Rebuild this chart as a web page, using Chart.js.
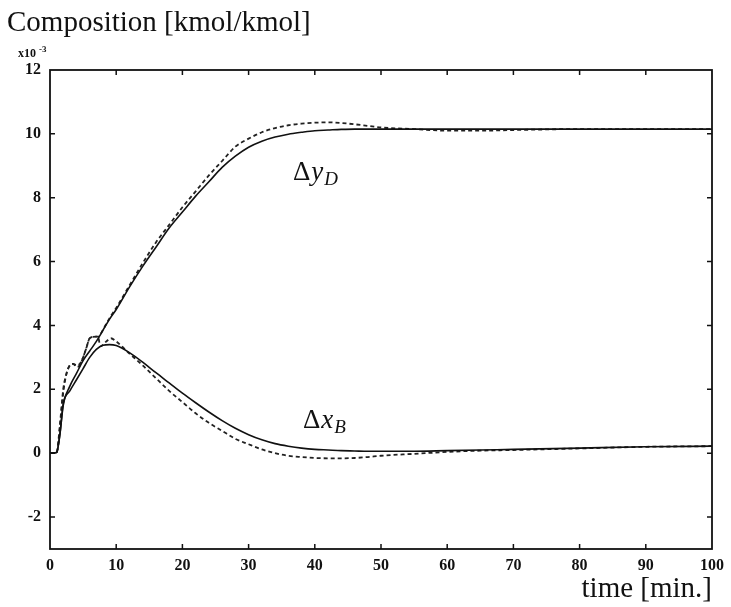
<!DOCTYPE html>
<html lang="en">
<head>
    <meta charset="UTF-8">
    <title>Composition response</title>
    <script src="https://cdn.jsdelivr.net/npm/chart.js"></script>
    <style>
        html, body { margin: 0; padding: 0; background: #fff; }
        #wrap { width: 731px; height: 607px; }
    </style>
</head>
<body>
    <div id="wrap"><canvas id="compChart" width="731" height="607"></canvas></div>

    <script>
        // time axis (min) for the solid curves
        const timeSolid = [0, 1, 1.5, 2, 3, 4, 5, 6, 7, 8, 9, 10, 12, 14, 16, 18, 20, 22, 24, 26, 28,
            30, 32, 34, 36, 38, 40, 42, 44, 46, 48, 50, 55, 60, 65, 70, 80, 90, 100];
        const yDSolid = [0, 0.02, 0.6, 1.5, 2.1, 2.5, 2.9, 3.2, 3.5, 3.85, 4.2, 4.5, 5.2, 5.85, 6.45, 7.05, 7.55, 8.05, 8.5, 8.95, 9.3,
            9.58, 9.77, 9.9, 9.99, 10.05, 10.1, 10.12, 10.14, 10.15, 10.15, 10.15, 10.15, 10.15, 10.15, 10.15, 10.15, 10.15, 10.15];
        const xBSolid = [0, 0.02, 0.6, 1.55, 1.95, 2.3, 2.65, 3.0, 3.25, 3.38, 3.4, 3.37, 3.15, 2.85, 2.52, 2.2, 1.88, 1.58, 1.29, 1.02, 0.78,
            0.58, 0.42, 0.3, 0.22, 0.16, 0.12, 0.1, 0.08, 0.07, 0.06, 0.06, 0.06, 0.08, 0.1, 0.12, 0.16, 0.2, 0.22];

        // time axis (min) for the dashed curves
        const timeDash = [0, 1, 1.5, 2, 2.5, 3, 3.5, 4, 4.5, 5, 5.5, 6, 7, 7.3, 7.6, 8.5, 9.2, 10, 12, 14, 16, 18, 20, 22, 24, 26, 28,
            30, 32, 34, 36, 38, 40, 42, 44, 46, 48, 50, 55, 60, 65, 70, 80, 90, 100];
        const yDDashed = [0, 0.02, 0.8, 1.9, 2.5, 2.75, 2.8, 2.75, 2.8, 3.0, 3.3, 3.6, 3.65, 3.65, 3.72, 4.05, 4.3, 4.55, 5.25, 5.95, 6.6, 7.15, 7.7, 8.2, 8.7, 9.15, 9.6,
            9.85, 10.05, 10.18, 10.27, 10.32, 10.35, 10.36, 10.34, 10.3, 10.25, 10.2, 10.15, 10.1, 10.1, 10.12, 10.15, 10.15, 10.15];
        const xBDashed = [0, 0.02, 0.9, 2.0, 2.5, 2.75, 2.8, 2.7, 2.75, 3.0, 3.3, 3.6, 3.65, 3.62, 3.35, 3.5, 3.6, 3.5, 3.12, 2.75, 2.35, 1.95, 1.6, 1.25, 0.95, 0.7, 0.45,
            0.28, 0.12, 0.0, -0.08, -0.12, -0.15, -0.16, -0.16, -0.15, -0.12, -0.08, -0.02, 0.04, 0.08, 0.1, 0.15, 0.2, 0.22];

        const xTicks = [0, 10, 20, 30, 40, 50, 60, 70, 80, 90, 100];
        const yTicks = [-2, 0, 2, 4, 6, 8, 10, 12];

        const pts = (ts, vs) => ts.map((t, i) => ({ x: t, y: vs[i] }));

        // frame, inward ticks and the text around the plot
        const decor = {
            id: "decor",
            afterDraw(chart) {
                const { ctx, chartArea: a, scales: { x, y } } = chart;
                ctx.save();
                ctx.strokeStyle = "#111";
                ctx.lineWidth = 1.8;
                ctx.strokeRect(a.left, a.top, a.right - a.left, a.bottom - a.top);

                ctx.lineWidth = 1.5;
                const tl = 5;
                xTicks.slice(1, -1).forEach(v => {
                    const px = x.getPixelForValue(v);
                    ctx.beginPath();
                    ctx.moveTo(px, a.bottom); ctx.lineTo(px, a.bottom - tl);
                    ctx.moveTo(px, a.top); ctx.lineTo(px, a.top + tl);
                    ctx.stroke();
                });
                yTicks.slice(0, -1).forEach(v => {
                    const py = y.getPixelForValue(v);
                    ctx.beginPath();
                    ctx.moveTo(a.left, py); ctx.lineTo(a.left + tl, py);
                    ctx.moveTo(a.right, py); ctx.lineTo(a.right - tl, py);
                    ctx.stroke();
                });

                ctx.fillStyle = "#111";
                ctx.textBaseline = "alphabetic";
                ctx.textAlign = "left";
                ctx.font = "29px 'Liberation Serif', serif";
                ctx.fillText("Composition [kmol/kmol]", 7, 31);

                ctx.font = "bold 12px 'Liberation Serif', serif";
                ctx.fillText("x10", 18, 57);
                ctx.font = "bold 9px 'Liberation Serif', serif";
                ctx.fillText("-3", 39, 52);

                ctx.textAlign = "right";
                ctx.font = "29px 'Liberation Serif', serif";
                ctx.fillText("time [min.]", a.right, 597);

                // curve labels
                ctx.textAlign = "left";
                const lab = (t, v, sym, sub) => {
                    let px = x.getPixelForValue(t);
                    const py = y.getPixelForValue(v);
                    ctx.font = "27px 'Liberation Serif', serif";
                    ctx.fillText("\u0394", px, py);
                    px += ctx.measureText("\u0394").width + 1;
                    ctx.font = "italic 27px 'Liberation Serif', serif";
                    ctx.fillText(sym, px, py);
                    px += ctx.measureText(sym).width + 1;
                    ctx.font = "italic 19px 'Liberation Serif', serif";
                    ctx.fillText(sub, px, py + 5);
                };
                lab(36.7, 8.55, "y", "D");
                lab(38.2, 0.8, "x", "B");
                ctx.restore();
            }
        };

        const solid = { borderColor: "#111", borderWidth: 1.6, pointRadius: 0, fill: false, cubicInterpolationMode: "monotone" };
        const dashed = { borderColor: "#222", borderWidth: 1.8, borderDash: [4, 3], pointRadius: 0, fill: false, cubicInterpolationMode: "monotone" };

        new Chart(document.getElementById("compChart"), {
            type: "line",
            data: {
                datasets: [
                    { label: "yD", data: pts(timeSolid, yDSolid), ...solid },
                    { label: "xB", data: pts(timeSolid, xBSolid), ...solid },
                    { label: "yD dashed", data: pts(timeDash, yDDashed), ...dashed },
                    { label: "xB dashed", data: pts(timeDash, xBDashed), ...dashed }
                ]
            },
            options: {
                responsive: false,
                animation: false,
                events: [],
                layout: { padding: { top: 70, right: 19, left: 0, bottom: 0 } },
                plugins: { legend: { display: false }, tooltip: { enabled: false } },
                scales: {
                    x: {
                        type: "linear", min: 0, max: 100,
                        grid: { display: false, drawTicks: false },
                        border: { display: false },
                        afterBuildTicks: s => { s.ticks = xTicks.map(v => ({ value: v })); },
                        afterFit: s => { s.height = 58; },
                        ticks: { color: "#111", padding: 7, maxRotation: 0, font: { family: "'Liberation Serif', serif", weight: "bold", size: 16 } }
                    },
                    y: {
                        type: "linear", min: -3, max: 12,
                        grid: { display: false, drawTicks: false },
                        border: { display: false },
                        afterBuildTicks: s => { s.ticks = yTicks.map(v => ({ value: v })); },
                        afterFit: s => { s.width = 50; },
                        ticks: { color: "#111", padding: 9, font: { family: "'Liberation Serif', serif", weight: "bold", size: 16 } }
                    }
                }
            },
            plugins: [decor]
        });
    </script>
</body>
</html>
